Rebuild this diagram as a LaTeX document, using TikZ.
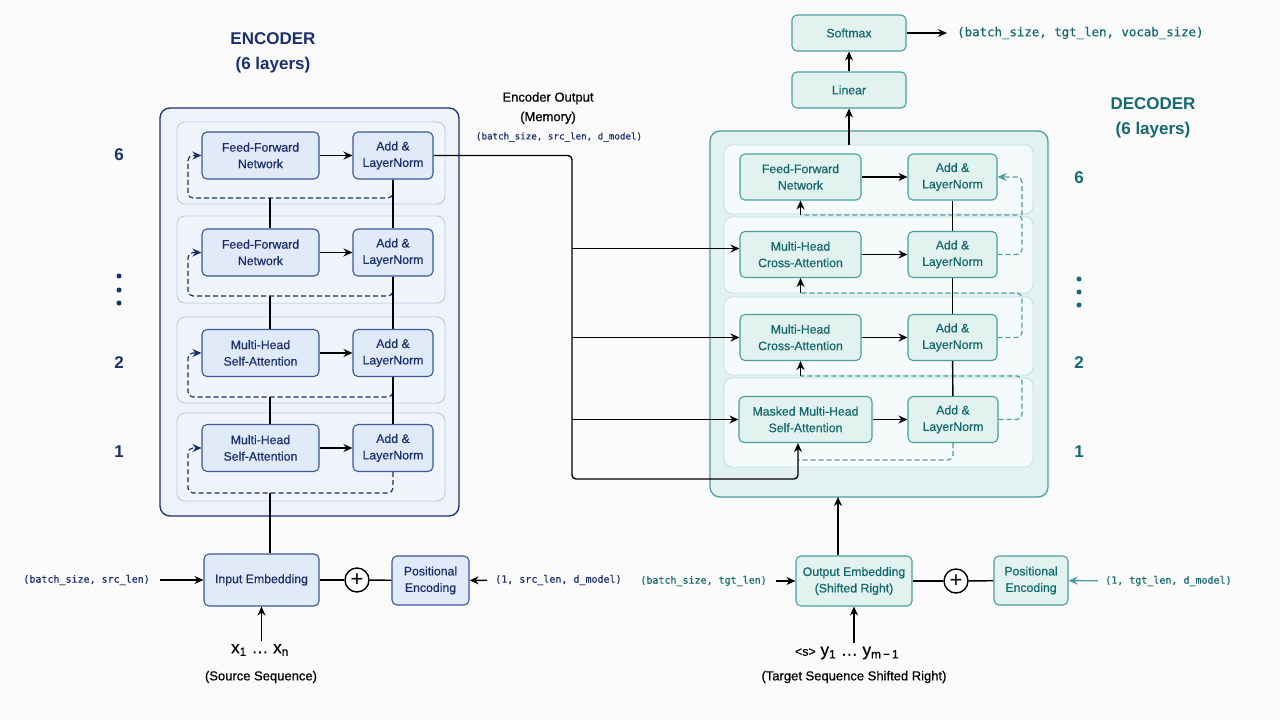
\documentclass[tikz,border=0pt]{standalone}
\usepackage{fontspec}
\setmainfont{Liberation Sans}
\setmonofont{DejaVu Sans Mono}
\newfontfamily\boxfont{Liberation Sans}[FakeBold=0.6]
\newfontfamily\boxmono{DejaVu Sans Mono}[FakeBold=0.4]
\usetikzlibrary{arrows.meta}

\definecolor{encline}{HTML}{3A5796}
\definecolor{enctext}{HTML}{1B2F6E}
\definecolor{encfill}{HTML}{E0EAF8}
\definecolor{enclayer}{HTML}{F0F5FC}
\definecolor{enclayerline}{HTML}{B9CBE6}
\definecolor{encouter}{HTML}{EEF3FB}
\definecolor{decline}{HTML}{4C9E9E}
\definecolor{dectext}{HTML}{146A6E}
\definecolor{decfill}{HTML}{E2F2EF}
\definecolor{declayer}{HTML}{F5FBFA}
\definecolor{declayerline}{HTML}{C3E2DE}
\definecolor{decouter}{HTML}{E3F2F0}
\definecolor{pagebg}{HTML}{FBFBFB}

\tikzset{
  encnode/.style={draw=encline, fill=encfill, text=enctext, rounded corners=5pt,
    line width=1.1pt, align=center, inner sep=0pt, minimum height=47pt,
    font=\boxfont\fontsize{12.3}{16.5}\selectfont},
  decnode/.style={draw=decline, fill=decfill, text=dectext, rounded corners=5pt,
    line width=1.1pt, align=center, inner sep=0pt, minimum height=46pt,
    font=\boxfont\fontsize{12.3}{16.5}\selectfont},
  enclayerbox/.style={draw=enclayerline, fill=enclayer, rounded corners=8pt, line width=0.9pt},
  declayerbox/.style={draw=declayerline, fill=declayer, rounded corners=8pt, line width=0.9pt},
  encres/.style={draw=enctext, dash pattern=on 5pt off 3pt, line width=1.2pt, rounded corners=5pt},
  decres/.style={draw=decline, dash pattern=on 5pt off 3pt, line width=1.2pt, rounded corners=5pt},
  link/.style={draw=black, line width=1.4pt},
  shapetext/.style={font=\boxmono\fontsize{10}{12}\selectfont, inner ysep=0pt},
  addcirc/.style={draw=black, fill=white, circle, line width=1.4pt, minimum size=24pt,
    inner sep=0pt, font=\fontsize{22}{22}\selectfont},
  title/.style={font=\bfseries\fontsize{17}{20}\selectfont},
  layernum/.style={font=\bfseries\fontsize{17}{20}\selectfont},
}

\begin{document}
\begin{tikzpicture}[x=1pt, y=-1pt, >={Stealth[length=9pt,width=8pt]}]
  \useasboundingbox[fill=pagebg] (0,0) rectangle (1280,720);

  % encoder frame and layers
  \draw[draw=enctext, fill=encouter, rounded corners=10pt, line width=1.3pt] (160,108) rectangle (459,516);
  \draw[enclayerbox] (177,122) rectangle (445,204);
  \draw[enclayerbox] (177,216) rectangle (445,303);
  \draw[enclayerbox] (177,317) rectangle (445,403);
  \draw[enclayerbox] (177,413) rectangle (445,501);

  % decoder frame and layers
  \draw[draw=decline, fill=decouter, rounded corners=10pt, line width=1.3pt] (710,131) rectangle (1048,497);
  \draw[declayerbox] (724,145) rectangle (1033,214);
  \draw[declayerbox] (724,217) rectangle (1033,293);
  \draw[declayerbox] (724,297) rectangle (1033,375);
  \draw[declayerbox] (724,378) rectangle (1033,467);

  % titles
  \node[title, text=enctext] (enctitle) at (273,39) {ENCODER};
  \node[title, text=enctext] (enclayers) at (273,65) {(6 layers)};
  \node[title, text=dectext] (dectitle) at (1153,104) {DECODER};
  \node[title, text=dectext] (declayers) at (1153,130) {(6 layers)};

  % layer numbers
  \node[layernum, text=enctext] (encsix) at (119,155) {6};
  \node[layernum, text=enctext] (enctwo) at (119,363) {2};
  \node[layernum, text=enctext] (encone) at (119,452) {1};
  \foreach \y in {276,290,303} \fill[enctext] (119,\y) circle (2.5pt);
  \node[layernum, text=dectext] (decsix) at (1079,178) {6};
  \node[layernum, text=dectext] (dectwo) at (1079,363) {2};
  \node[layernum, text=dectext] (decone) at (1079,452) {1};
  \foreach \y in {279,292,305} \fill[dectext] (1079,\y) circle (2.5pt);

  % encoder blocks
  \node[encnode, minimum width=117pt] (encffnA) at (260.5,155.5) {Feed-Forward\\Network};
  \node[encnode, minimum width=80pt]  (encaddA) at (393,155.5) {Add \&\\LayerNorm};
  \node[encnode, minimum width=117pt] (encffnB) at (260.5,252.5) {Feed-Forward\\Network};
  \node[encnode, minimum width=80pt]  (encaddB) at (393,252.5) {Add \&\\LayerNorm};
  \node[encnode, minimum width=117pt] (encattC) at (260.5,353) {Multi-Head\\Self-Attention};
  \node[encnode, minimum width=80pt]  (encaddC) at (393,353) {Add \&\\LayerNorm};
  \node[encnode, minimum width=117pt] (encattD) at (260.5,448) {Multi-Head\\Self-Attention};
  \node[encnode, minimum width=80pt]  (encaddD) at (393,448) {Add \&\\LayerNorm};

  \coordinate (encdA) at (270,198);
  \coordinate (encdB) at (270,296);
  \coordinate (encdC) at (270,397);
  \coordinate (encdD) at (270,493);

  % encoder residuals
  \draw[encres, ->] (encaddA.south) |- (188,198) |- (encffnA.west);
  \draw[encres, ->] (encaddB.south) |- (188,296) |- (encffnB.west);
  \draw[encres, ->] (encaddC.south) |- (188,397) |- (encattC.west);
  \draw[encres, ->] (encaddD.south) |- (188,493) |- (encattD.west);

  % encoder links
  \draw[link, ->] (encffnA) -- (encaddA);
  \draw[link, ->] (encffnB) -- (encaddB);
  \draw[link, ->] (encattC) -- (encaddC);
  \draw[link, ->] (encattD) -- (encaddD);
  \draw[link] (encaddA) -- (encaddB);
  \draw[link] (encaddB) -- (encaddC);
  \draw[link] (encaddC) -- (encaddD);
  \draw[link] (encdA) -- (encffnB.north -| encdA);
  \draw[link] (encdB) -- (encattC.north -| encdB);
  \draw[link] (encdC) -- (encattD.north -| encdC);

  % encoder input
  \node[encnode, minimum width=115pt, minimum height=52pt] (inemb) at (261.5,580) {Input Embedding};
  \node[addcirc] (encplus) at (357,580) {+};
  \node[encnode, minimum width=77pt, minimum height=49pt] (encpe) at (430.5,580.5) {Positional\\Encoding};
  \node[shapetext, text=enctext, anchor=east, inner xsep=10pt] (srcshape) at (160,580) {(batch\_size, src\_len)};
  \node[shapetext, text=enctext, anchor=west, inner xsep=8pt] (srcpe) at (487,580) {(1, src\_len, d\_model)};
  \node[font=\boxfont\fontsize{17}{18}\selectfont] (srcseq) at (260,650) {x\textsubscript{1} … x\textsubscript{n}};
  \node[font=\boxfont\fontsize{13}{15}\selectfont] (srclabel) at (261,677) {(Source Sequence)};
  \draw[link, ->] (srcshape) -- (inemb);
  \draw[link, ->] (srcpe) -- (encpe);
  \draw[link] (inemb) -- (encplus);
  \draw[link] (encplus) -- (encpe);
  \draw[link, ->] (srcseq.north -| inemb) -- (inemb);
  \draw[link] (inemb.north -| encdD) -- (encdD);

  % decoder blocks
  \node[decnode, minimum width=121pt] (decffnA) at (800.5,177) {Feed-Forward\\Network};
  \node[decnode, minimum width=89pt]  (decaddA) at (952.5,177) {Add \&\\LayerNorm};
  \node[decnode, minimum width=121pt] (deccrsB) at (800.5,254.5) {Multi-Head\\Cross-Attention};
  \node[decnode, minimum width=89pt]  (decaddB) at (952.5,254.5) {Add \&\\LayerNorm};
  \node[decnode, minimum width=121pt] (deccrsC) at (800.5,337.5) {Multi-Head\\Cross-Attention};
  \node[decnode, minimum width=89pt]  (decaddC) at (952.5,337.5) {Add \&\\LayerNorm};
  \node[decnode, minimum width=133pt] (decmskD) at (805.5,419.5) {Masked Multi-Head\\Self-Attention};
  \node[decnode, minimum width=90pt]  (decaddD) at (953,419.5) {Add \&\\LayerNorm};

  \coordinate (decrA) at (800.5,215);
  \coordinate (decrB) at (800.5,293);
  \coordinate (decrC) at (800.5,376);
  \coordinate (decrD) at (798,460);

  % decoder residuals
  \draw[decres] (decaddB.east) -| (1022,215) -- (decrA);
  \draw[decres, ->] (1022,215) |- (decaddA.east);
  \draw[decres] (decaddC.east) -| (1022,293) -- (decrB);
  \draw[decres] (decaddD.east) -| (1022,376) -- (decrC);
  \draw[decres] (decaddD.south) |- (decrD);

  % decoder links
  \draw[link, ->] (decffnA) -- (decaddA);
  \draw[link, ->] (deccrsB) -- (decaddB);
  \draw[link, ->] (deccrsC) -- (decaddC);
  \draw[link, ->] (decmskD) -- (decaddD);
  \draw[link] (decaddA) -- (decaddB);
  \draw[link] (decaddB) -- (decaddC);
  \draw[link] (decaddC) -- (decaddD);
  \draw[link, ->] (decrA) -- (decffnA);
  \draw[link, ->] (decrB) -- (deccrsB);
  \draw[link, ->] (decrC) -- (deccrsC);

  % encoder memory
  \node[font=\boxfont\fontsize{13}{19.5}\selectfont, align=center] (memlabel) at (548,108) {Encoder Output\\(Memory)};
  \node[shapetext, text=enctext, font=\boxmono\fontsize{9.2}{12}\selectfont] (memshape) at (559,137) {(batch\_size, src\_len, d\_model)};
  \coordinate (memtop) at (572,155.5);
  \coordinate (membot) at (798,479);
  \draw[link, rounded corners=4pt, ->] (encaddA.east) -- (memtop) |- (membot) -- (decmskD.south -| membot);
  \draw[link, ->] (memtop |- decmskD.west) -- (decmskD.west);
  \draw[link, ->] (memtop |- deccrsC.west) -- (deccrsC.west);
  \draw[link, ->] ([yshift=6pt]memtop |- deccrsB.west) -- ([yshift=6pt]deccrsB.west);

  % decoder head
  \node[decnode, minimum width=114pt, minimum height=36pt] (linear) at (849,90) {Linear};
  \node[decnode, minimum width=114pt, minimum height=36pt] (softmax) at (849,33) {Softmax};
  \node[shapetext, text=dectext, font=\boxmono\fontsize{12.4}{14}\selectfont, anchor=west, inner xsep=10pt] (probshape) at (947,33) {(batch\_size, tgt\_len, vocab\_size)};
  \coordinate (dectop) at (849,145);
  \draw[link, ->] (dectop) -- (linear);
  \draw[link, ->] (linear) -- (softmax);
  \draw[link, ->] (softmax) -- (probshape);

  % decoder input
  \node[decnode, minimum width=116pt, minimum height=50pt] (outemb) at (854,581) {Output Embedding\\(Shifted Right)};
  \node[addcirc] (decplus) at (956,581) {+};
  \node[decnode, minimum width=74pt, minimum height=49pt] (decpe) at (1031,580.5) {Positional\\Encoding};
  \node[shapetext, text=dectext, anchor=east, inner xsep=9pt] (tgtshape) at (776,581) {(batch\_size, tgt\_len)};
  \node[shapetext, text=dectext, anchor=west, inner xsep=7pt] (tgtpe) at (1098,581) {(1, tgt\_len, d\_model)};
  \node[font=\boxfont\fontsize{17}{18}\selectfont] (tgtseq) at (847,653) {{\fontsize{12.5}{14}\selectfont <s>} y\textsubscript{1} … y\textsubscript{m\,−\,1}};
  \node[font=\boxfont\fontsize{13}{15}\selectfont] (tgtlabel) at (854,677) {(Target Sequence Shifted Right)};
  \coordinate (decbot) at (838,497);
  \draw[link, ->] (tgtshape) -- (outemb);
  \draw[link, ->, draw=decline] (tgtpe) -- (decpe);
  \draw[link] (outemb) -- (decplus);
  \draw[link] (decplus) -- (decpe);
  \draw[link, ->] (tgtseq.north -| outemb) -- (outemb);
  \draw[link, ->] (outemb.north -| decbot) -- (decbot);
\end{tikzpicture}
\end{document}
